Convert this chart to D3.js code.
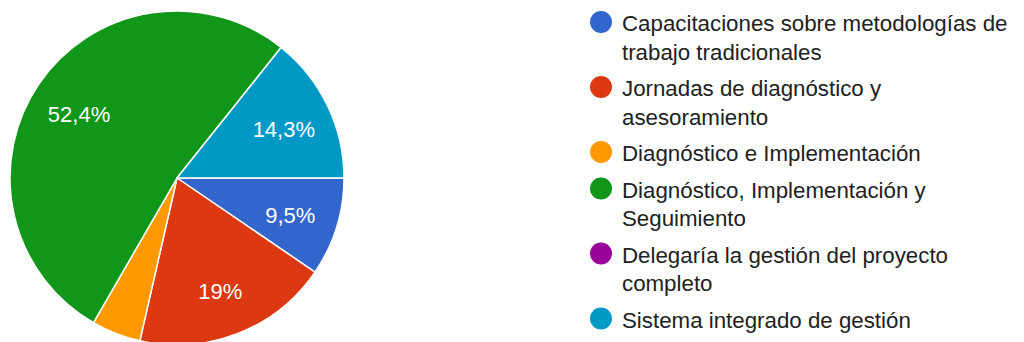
<!DOCTYPE html>
<html>
<head>
<meta charset="utf-8">
<script src="https://cdn.jsdelivr.net/npm/d3@7/dist/d3.min.js"></script>
<style>
  html, body { margin: 0; padding: 0; background: #fff; }
  svg { display: block; }
</style>
</head>
<body>
<svg id="chart" width="1024" height="342"></svg>
<script>
// Data (21 respondents)
const categories = [
  "Capacitaciones sobre metodologías de trabajo tradicionales",
  "Jornadas de diagnóstico y asesoramiento",
  "Diagnóstico e Implementación",
  "Diagnóstico, Implementación y Seguimiento",
  "Delegaría la gestión del proyecto completo",
  "Sistema integrado de gestión"
];
const counts = [2, 4, 1, 11, 0, 3];
const colors = ["#3366cc", "#dc3912", "#ff9900", "#109618", "#990099", "#0099c6"];

const FONT = "Arial, 'Liberation Sans', sans-serif";
const svg = d3.select("#chart");
const cx = 177, cy = 178, R = 167;
const total = d3.sum(counts);

const data = categories.map((c, i) => ({ name: c, value: counts[i], color: colors[i] }));

const pie = d3.pie().sort(null).value(d => d.value)
  .startAngle(Math.PI / 2).endAngle(Math.PI / 2 + 2 * Math.PI);
const arcs = pie(data);
const arc = d3.arc().innerRadius(0).outerRadius(R);
const labelArc = d3.arc().innerRadius(R * 0.71).outerRadius(R * 0.71);

const g = svg.append("g").attr("transform", `translate(${cx},${cy})`);
g.selectAll("path.slice").data(arcs.filter(a => a.data.value > 0)).join("path")
  .attr("class", "slice")
  .attr("d", arc)
  .attr("fill", d => d.data.color)
  .attr("stroke", "#fff")
  .attr("stroke-width", 1.5)
  .attr("stroke-linejoin", "round");

const fmt = v => {
  const s = d3.format(".1f")(v).replace(/\.0$/, "");
  return s.replace(".", ",") + "%";
};
g.selectAll("text.lbl").data(arcs.filter(a => a.data.value / total >= 0.05)).join("text")
  .attr("class", "lbl")
  .attr("x", d => labelArc.centroid(d)[0])
  .attr("y", d => labelArc.centroid(d)[1] + 3)
  .attr("text-anchor", "middle")
  .attr("dominant-baseline", "central")
  .attr("fill", "#fff")
  .style("font-family", FONT)
  .style("font-size", "22px")
  .text(d => fmt(d.data.value / total * 100));

// Legend
const lx = 601, tx = 622, maxW = 398;
const lineH = 28.5, itemGap = 36.5;
let baseline = 31;
const legend = svg.append("g");
data.forEach(d => {
  const t = legend.append("text")
    .attr("x", tx).attr("y", baseline)
    .attr("fill", "#212121")
    .style("font-family", FONT)
    .style("font-size", "22.3px");
  const words = d.name.split(" ");
  let line = [];
  let tspan = t.append("tspan").attr("x", tx).attr("y", baseline);
  let nLines = 1;
  words.forEach(w => {
    line.push(w);
    tspan.text(line.join(" "));
    if (tspan.node().getComputedTextLength() > maxW && line.length > 1) {
      line.pop();
      tspan.text(line.join(" "));
      line = [w];
      tspan = t.append("tspan").attr("x", tx).attr("y", baseline + nLines * lineH).text(w);
      nLines++;
    }
  });
  legend.append("circle")
    .attr("cx", lx).attr("cy", baseline - 9).attr("r", 11)
    .attr("fill", d.color);
  baseline += (nLines - 1) * lineH + itemGap;
});
</script>
</body>
</html>
